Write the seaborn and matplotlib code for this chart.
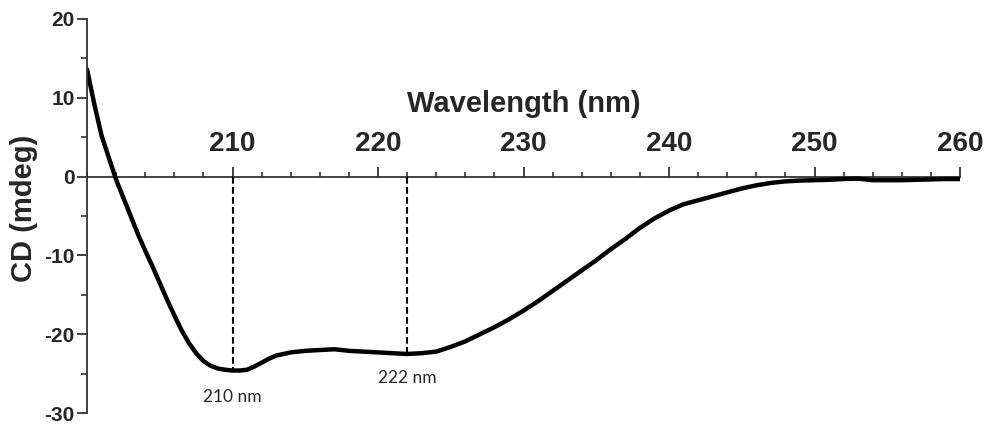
import numpy as np
import pandas as pd
import matplotlib
matplotlib.use("Agg")
import matplotlib.pyplot as plt
from matplotlib.ticker import MultipleLocator, FixedLocator
import seaborn as sns

# Espectro de CD (0.5 nm no início, depois 1 nm)
wavelength = [
    200, 200.5, 201, 201.5, 202, 202.5, 203, 203.5, 204, 204.5,
    205, 205.5, 206, 206.5, 207, 207.5, 208, 208.5, 209, 209.5,
    210, 210.5, 211, 211.5, 212, 212.5, 213,
    214, 215, 216, 217, 218, 219, 220, 221, 222, 223, 224, 225, 226, 227,
    228, 229, 230, 231, 232, 233, 234, 235, 236, 237, 238, 239, 240, 241,
    242, 243, 244, 245, 246, 247, 248, 249, 250, 251, 252, 253, 254, 255,
    256, 257, 258, 259, 260,
]
cd_mdeg = [
    13.6, 9.2, 5.2, 2.4, -0.4, -2.7, -5.0, -7.3, -9.4, -11.4,
    -13.5, -15.6, -17.6, -19.5, -21.1, -22.4, -23.4, -24.0, -24.35, -24.5,
    -24.6, -24.6, -24.5, -24.1, -23.6, -23.1, -22.7,
    -22.3, -22.1, -22.0, -21.9, -22.1, -22.2, -22.3, -22.4, -22.5, -22.4,
    -22.2, -21.6, -20.9, -20.0,
    -19.1, -18.1, -17.0, -15.8, -14.5, -13.2, -11.9, -10.6, -9.2, -7.9,
    -6.5, -5.3, -4.3, -3.5,
    -3.0, -2.5, -2.0, -1.5, -1.1, -0.8, -0.6, -0.5, -0.45, -0.4, -0.3,
    -0.25, -0.45, -0.45,
    -0.45, -0.4, -0.35, -0.3, -0.3,
]
marker_wl = [210, 222]
marker_labels = ["210 nm", "222 nm"]
marker_label_y = [-27.9, -25.5]

df = pd.DataFrame({"wavelength": wavelength, "cd": cd_mdeg})

sns.set_style("ticks")
plt.rcParams["font.family"] = ["Liberation Sans", "DejaVu Sans"]
plt.rcParams["axes.unicode_minus"] = False

fig = plt.figure(figsize=(9.89, 4.25), dpi=100)
ax = fig.add_axes([0.088, 0.028, 0.8827, 0.9273])

sns.lineplot(data=df, x="wavelength", y="cd", color="black", linewidth=3.2, ax=ax)

# Linhas tracejadas nos mínimos
for wl, lab, ly in zip(marker_wl, marker_labels, marker_label_y):
    ymin = cd_mdeg[wavelength.index(wl)]
    ax.plot([wl, wl], [0, ymin], color="black", linestyle=(0, (3.2, 1.6)), linewidth=1.5)
    ax.text(wl, ly, lab, ha="center", va="center", fontsize=12.5,
            family=["Lato", "DejaVu Sans"])

ax.set_xlim(200, 260)
ax.set_ylim(-30, 20)

# Eixo x no zero, rótulos acima
ax.spines["bottom"].set_visible(False)
ax.spines["right"].set_visible(False)
ax.spines["top"].set_position(("data", 0))
ax.spines["top"].set_zorder(0)
ax.xaxis.tick_top()
ax.xaxis.set_label_position("top")
ax.xaxis.set_major_locator(FixedLocator([210, 220, 230, 240, 250, 260]))
ax.xaxis.set_minor_locator(MultipleLocator(2))
ax.yaxis.set_major_locator(MultipleLocator(10))
ax.yaxis.set_minor_locator(MultipleLocator(5))

for s in ["top", "left"]:
    ax.spines[s].set_color("#333333")
    ax.spines[s].set_linewidth(1.3)

ax.tick_params(axis="x", which="major", direction="out", length=7, width=1.3,
               color="#333333", labelsize=20, pad=7)
ax.tick_params(axis="x", which="minor", direction="out", length=3.5, width=1.2,
               color="#333333")
ax.tick_params(axis="y", which="major", direction="out", length=7, width=1.3,
               color="#333333", labelsize=15, pad=2)
ax.tick_params(axis="y", which="minor", direction="out", length=4, width=1.2,
               color="#333333")
for t in ax.get_xticklabels() + ax.get_yticklabels():
    t.set_fontweight("bold")

ax.set_xlabel("Wavelength (nm)", fontsize=21, fontweight="bold", labelpad=14)
ax.set_ylabel("CD (mdeg)", fontsize=21, fontweight="bold")
ax.yaxis.set_label_coords(-0.056, 0.52)

fig.savefig("out.png", dpi=100)
